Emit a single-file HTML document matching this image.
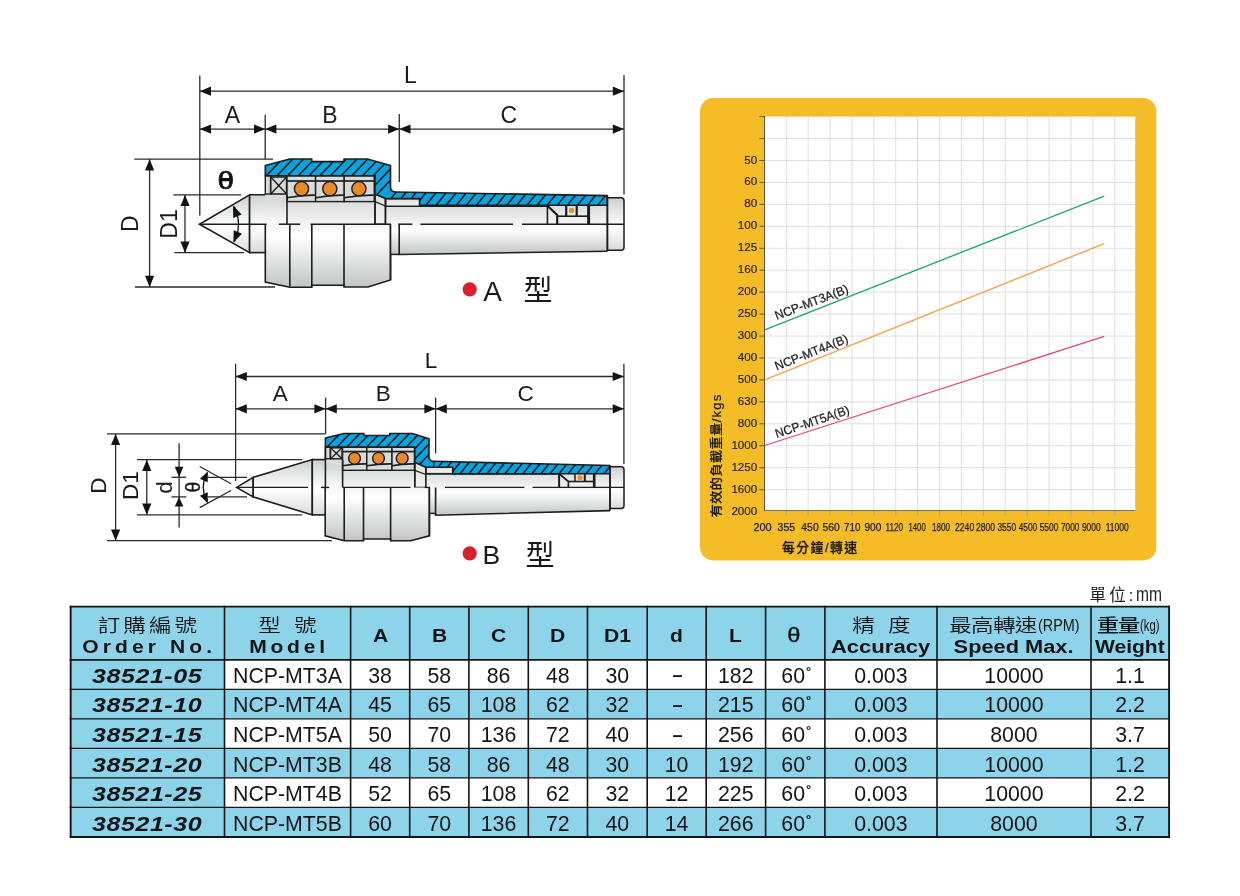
<!DOCTYPE html>
<html lang="zh-Hant"><head><meta charset="utf-8"><title>NCP Live Center</title><style>
html,body{margin:0;padding:0;background:#fff;}
body{width:1240px;height:896px;position:relative;overflow:hidden;font-family:"Liberation Sans","Noto Sans CJK TC",sans-serif;}
.t{position:absolute;left:70.6px;top:606.6px;border-collapse:collapse;table-layout:fixed;width:1098.6px;border:0;}
.t th,.t td{border:0;padding:0;text-align:center;color:#151515;overflow:hidden;white-space:nowrap;box-sizing:border-box;}
.t tr.h{height:53.2px}
.t tr.h th{height:53.2px;background:#8dd3ea;font-weight:normal;vertical-align:top;}
.t tr.r{height:29.52px}
.t td{height:29.52px;font-size:21.3px;line-height:26px;background:#fff;vertical-align:top;padding-top:3.2px;}
.t tr.b td{background:#8dd3ea;}
.t td.ord{background:#8dd3ea;}
.zh{font-family:"Liberation Sans","Noto Sans CJK TC",sans-serif;font-weight:350;font-size:18px;line-height:20px;margin-top:9.4px;}
.c{display:inline-block;transform:scaleX(1.25);transform-origin:center;}
.en{font-weight:bold;font-size:18px;line-height:20px;margin-top:1px;}
.x{display:inline-block;transform:scaleX(1.17);transform-origin:center;}
.one{font-weight:bold;font-size:18px;line-height:20px;margin-top:19px;}
.sm{font-size:16px;letter-spacing:0;font-weight:300;display:inline-block;transform:scaleX(0.9);transform-origin:left;vertical-align:0.5px;margin-left:1.5px;margin-right:-5px}
.sm2{font-size:16px;letter-spacing:0;font-weight:300;display:inline-block;transform:scaleX(0.71);transform-origin:left;vertical-align:0.5px;margin-left:1.5px;margin-right:-4px}
.o{display:inline-block;font-weight:bold;font-style:italic;font-size:20.5px;letter-spacing:0.45px;margin-right:-0.45px;transform:scaleX(1.22);position:relative;left:-0.6px}
.deg{font-size:13px;-webkit-text-stroke:0.3px #151515;position:relative;top:-7px;margin-left:1.1px;margin-right:-2.3px;line-height:0}
.dash{font-weight:bold;font-size:18px;line-height:0;position:relative;top:-1.5px;left:1px}
.unit{position:absolute;left:1089.5px;top:584px;font-size:16.5px;line-height:20px;color:#222;font-family:"Liberation Sans","Noto Sans CJK TC",sans-serif;white-space:nowrap;font-weight:400}
</style></head><body>
<svg width="1240" height="896" viewBox="0 0 1240 896" style="position:absolute;left:0;top:0" font-family="'Liberation Sans',sans-serif">
<defs>
<linearGradient id="gFull" x1="0" y1="0" x2="0" y2="1">
 <stop offset="0" stop-color="#cfd1d1"/><stop offset="0.55" stop-color="#ffffff"/><stop offset="1" stop-color="#d9dbdb"/>
</linearGradient>
<linearGradient id="gLow" x1="0" y1="0" x2="0" y2="1">
 <stop offset="0" stop-color="#f3f4f4"/><stop offset="0.18" stop-color="#ffffff"/><stop offset="1" stop-color="#c3c5c5"/>
</linearGradient>
<linearGradient id="gUp" x1="0" y1="0" x2="0" y2="1">
 <stop offset="0" stop-color="#d0d2d2"/><stop offset="1" stop-color="#f7f7f7"/>
</linearGradient>
 <linearGradient id="gUpF" x1="0" y1="0" x2="0" y2="1">
 <stop offset="0" stop-color="#cfd1d1"/><stop offset="1" stop-color="#fbfbfb"/>
</linearGradient>
<linearGradient id="gUp2" x1="0" y1="0" x2="0" y2="1">
 <stop offset="0" stop-color="#dcdede"/><stop offset="1" stop-color="#f4f4f4"/>
</linearGradient>
</defs>

<g id="diagA"><polygon points="199.5,224.2 249.6,194.8 249.6,252.6" fill="url(#gFull)" stroke="#1d1d1d" stroke-width="1.6" stroke-linejoin="miter"/>
<rect x="249.6" y="194.8" width="15.7" height="57.8" fill="url(#gFull)"/>
<rect x="265.0" y="194.8" width="22" height="29.4" fill="url(#gUpF)"/>
<polyline points="249.6,194.8 287,194.8" fill="none" stroke="#1d1d1d" stroke-width="1.6"/>
<polyline points="249.6,252.6 265.3,252.6" fill="none" stroke="#1d1d1d" stroke-width="1.6"/>
<line x1="249.6" y1="194.8" x2="249.6" y2="252.6" stroke="#1d1d1d" stroke-width="1.6"/>
<rect x="265.3" y="175.8" width="109.7" height="25.8" fill="#d9dbdb"/>
<rect x="287" y="201.6" width="88" height="22.6" fill="url(#gUp2)"/>
<polygon points="375,194 385.3,198.3 385.3,224.2 375,224.2" fill="url(#gUp2)" stroke="#1d1d1d" stroke-width="1.4"/>
<line x1="375.0" y1="201.6" x2="385.3" y2="206.0" stroke="#1d1d1d" stroke-width="1.3"/>
<rect x="385.6" y="198.6" width="34" height="8.2" fill="url(#gUp2)" stroke="#1d1d1d" stroke-width="1.4"/>
<rect x="385.3" y="206" width="222.1" height="18.2" fill="url(#gUp2)"/>
<line x1="385.3" y1="206.3" x2="547.4" y2="206.3" stroke="#1d1d1d" stroke-width="1.4"/>
<line x1="385.6" y1="198.4" x2="385.6" y2="224.2" stroke="#1d1d1d" stroke-width="1.5"/>
<polyline points="547.4,205 547.4,224.2" fill="none" stroke="#1d1d1d" stroke-width="1.6"/>
<polyline points="547.4,205.8 557.2,215 557.2,224.2" fill="none" stroke="#1d1d1d" stroke-width="2.2"/>
<line x1="557.2" y1="216.2" x2="588.0" y2="216.2" stroke="#1d1d1d" stroke-width="1.6"/>
<line x1="566.2" y1="205.0" x2="566.2" y2="216.2" stroke="#1d1d1d" stroke-width="2.2"/>
<line x1="576.7" y1="205.0" x2="576.7" y2="216.2" stroke="#1d1d1d" stroke-width="2.2"/>
<line x1="588.6" y1="205.0" x2="588.6" y2="224.2" stroke="#1d1d1d" stroke-width="3.0"/>
<circle cx="571.6" cy="210.4" r="2.6" fill="#ea8b2a"/>
<rect x="265.3" y="175.8" width="5.2" height="18.2" fill="#d9dbdb" stroke="#1d1d1d" stroke-width="1.4"/>
<rect x="270.8" y="177" width="15.8" height="17" fill="#d9dbdb" stroke="#1d1d1d" stroke-width="1.5"/>
<line x1="270.8" y1="177.0" x2="286.6" y2="194.0" stroke="#1d1d1d" stroke-width="1.4"/><line x1="286.6" y1="177.0" x2="270.8" y2="194.0" stroke="#1d1d1d" stroke-width="1.4"/>
<rect x="287.0" y="175.8" width="28.6" height="25.8" fill="#d9dbdb" stroke="#1d1d1d" stroke-width="1.4"/><line x1="287.0" y1="181.0" x2="315.6" y2="181.0" stroke="#1d1d1d" stroke-width="1.7"/><path d="M287.0,197.7 Q301.3,194.9 315.6,195.2" fill="none" stroke="#1d1d1d" stroke-width="1.6"/><circle cx="301.5" cy="188.7" r="7.1" fill="#ea8b2a" stroke="#1d1d1d" stroke-width="1.4"/>
<rect x="315.6" y="175.8" width="28.6" height="25.8" fill="#d9dbdb" stroke="#1d1d1d" stroke-width="1.4"/><line x1="315.6" y1="181.0" x2="344.2" y2="181.0" stroke="#1d1d1d" stroke-width="1.7"/><path d="M315.6,197.7 Q329.9,194.9 344.2,195.2" fill="none" stroke="#1d1d1d" stroke-width="1.6"/><circle cx="329.8" cy="188.7" r="7.1" fill="#ea8b2a" stroke="#1d1d1d" stroke-width="1.4"/>
<rect x="344.2" y="175.8" width="30.0" height="25.8" fill="#d9dbdb" stroke="#1d1d1d" stroke-width="1.4"/><line x1="344.2" y1="181.0" x2="374.2" y2="181.0" stroke="#1d1d1d" stroke-width="1.7"/><path d="M344.2,197.7 Q359.2,194.9 374.2,195.2" fill="none" stroke="#1d1d1d" stroke-width="1.6"/><circle cx="358.9" cy="188.7" r="7.1" fill="#ea8b2a" stroke="#1d1d1d" stroke-width="1.4"/>
<line x1="287.0" y1="194.8" x2="287.0" y2="224.2" stroke="#1d1d1d" stroke-width="1.6"/>
<line x1="375.0" y1="194.0" x2="375.0" y2="224.2" stroke="#1d1d1d" stroke-width="1.5"/>
<clipPath id="cA"><path d="M265.3,165.5 L289.8,159 L311.8,159 L311.8,161.6 L344,161.6 L344,159 L367.3,159 L390.5,165.5 L390.5,187 Q390.5,192 396,192 L607.3,195.6 L607.3,205.2 L419.6,205.2 L419.6,198.6 L385.6,198.6 L375,194 L375,175.8 L265.3,175.8 Z"/></clipPath>
<path d="M265.3,165.5 L289.8,159 L311.8,159 L311.8,161.6 L344,161.6 L344,159 L367.3,159 L390.5,165.5 L390.5,187 Q390.5,192 396,192 L607.3,195.6 L607.3,205.2 L419.6,205.2 L419.6,198.6 L385.6,198.6 L375,194 L375,175.8 L265.3,175.8 Z" fill="#06a3dd"/>
<clipPath id="cA1"><polygon points="260,150 391,150 391,190 383,197.5 383,210 260,210"/></clipPath><clipPath id="cA2"><rect x="391" y="150" width="230" height="60"/></clipPath>
<g clip-path="url(#cA1)"><g clip-path="url(#cA)" stroke="#111" stroke-width="1.45"><line x1="200.4" y1="200.0" x2="239.4" y2="159.0"/><line x1="211.1" y1="200.0" x2="250.1" y2="159.0"/><line x1="221.8" y1="200.0" x2="260.8" y2="159.0"/><line x1="232.5" y1="200.0" x2="271.5" y2="159.0"/><line x1="243.2" y1="200.0" x2="282.2" y2="159.0"/><line x1="253.9" y1="200.0" x2="292.9" y2="159.0"/><line x1="264.6" y1="200.0" x2="303.6" y2="159.0"/><line x1="275.3" y1="200.0" x2="314.3" y2="159.0"/><line x1="286.0" y1="200.0" x2="325.0" y2="159.0"/><line x1="296.7" y1="200.0" x2="335.7" y2="159.0"/><line x1="307.4" y1="200.0" x2="346.4" y2="159.0"/><line x1="318.1" y1="200.0" x2="357.1" y2="159.0"/><line x1="328.8" y1="200.0" x2="367.8" y2="159.0"/><line x1="339.5" y1="200.0" x2="378.5" y2="159.0"/><line x1="350.2" y1="200.0" x2="389.2" y2="159.0"/><line x1="360.9" y1="200.0" x2="399.9" y2="159.0"/><line x1="371.6" y1="200.0" x2="410.6" y2="159.0"/><line x1="382.3" y1="200.0" x2="421.3" y2="159.0"/><line x1="393.0" y1="200.0" x2="432.0" y2="159.0"/><line x1="403.7" y1="200.0" x2="442.7" y2="159.0"/></g></g>
<g clip-path="url(#cA2)"><g clip-path="url(#cA)" stroke="#111" stroke-width="1.45"><line x1="354.7" y1="206.0" x2="367.5" y2="190.0"/><line x1="364.8" y1="206.0" x2="377.6" y2="190.0"/><line x1="374.9" y1="206.0" x2="387.7" y2="190.0"/><line x1="385.0" y1="206.0" x2="397.8" y2="190.0"/><line x1="395.1" y1="206.0" x2="407.9" y2="190.0"/><line x1="405.2" y1="206.0" x2="418.0" y2="190.0"/><line x1="415.3" y1="206.0" x2="428.1" y2="190.0"/><line x1="425.4" y1="206.0" x2="438.2" y2="190.0"/><line x1="435.5" y1="206.0" x2="448.3" y2="190.0"/><line x1="445.6" y1="206.0" x2="458.4" y2="190.0"/><line x1="455.7" y1="206.0" x2="468.5" y2="190.0"/><line x1="465.8" y1="206.0" x2="478.6" y2="190.0"/><line x1="475.9" y1="206.0" x2="488.7" y2="190.0"/><line x1="486.0" y1="206.0" x2="498.8" y2="190.0"/><line x1="496.1" y1="206.0" x2="508.9" y2="190.0"/><line x1="506.2" y1="206.0" x2="519.0" y2="190.0"/><line x1="516.3" y1="206.0" x2="529.1" y2="190.0"/><line x1="526.4" y1="206.0" x2="539.2" y2="190.0"/><line x1="536.5" y1="206.0" x2="549.3" y2="190.0"/><line x1="546.6" y1="206.0" x2="559.4" y2="190.0"/><line x1="556.7" y1="206.0" x2="569.5" y2="190.0"/><line x1="566.8" y1="206.0" x2="579.6" y2="190.0"/><line x1="576.9" y1="206.0" x2="589.7" y2="190.0"/><line x1="587.0" y1="206.0" x2="599.8" y2="190.0"/><line x1="597.1" y1="206.0" x2="609.9" y2="190.0"/><line x1="607.2" y1="206.0" x2="620.0" y2="190.0"/><line x1="617.3" y1="206.0" x2="630.1" y2="190.0"/><line x1="627.4" y1="206.0" x2="640.2" y2="190.0"/></g></g>
<path d="M265.3,165.5 L289.8,159 L311.8,159 L311.8,161.6 L344,161.6 L344,159 L367.3,159 L390.5,165.5 L390.5,187 Q390.5,192 396,192 L607.3,195.6 L607.3,205.2 L419.6,205.2 L419.6,198.6 L385.6,198.6 L375,194 L375,175.8 L265.3,175.8 Z" fill="none" stroke="#1d1d1d" stroke-width="1.6" stroke-linejoin="round"/>
<path d="M265.3,224.2 L265.3,282 L289.8,287.3 L311.8,287.3 L311.8,285.3 L344,285.3 L344,287 L368,287 L390.5,280 L390.5,224.2 Z" fill="url(#gLow)"/>
<path d="M265.3,224.2 L265.3,282 L289.8,287.3 L311.8,287.3 L311.8,285.3 L344,285.3 L344,287 L368,287 L390.5,280 L390.5,224.2" fill="none" stroke="#1d1d1d" stroke-width="1.6"/>
<line x1="289.8" y1="224.2" x2="289.8" y2="286.5" stroke="#1d1d1d" stroke-width="1.6"/>
<line x1="311.8" y1="224.2" x2="311.8" y2="286.5" stroke="#1d1d1d" stroke-width="1.6"/>
<line x1="344.0" y1="224.2" x2="344.0" y2="286.5" stroke="#1d1d1d" stroke-width="1.6"/>
<rect x="390.5" y="224.2" width="8.7" height="30.2" fill="url(#gLow)"/>
<line x1="390.5" y1="254.4" x2="399.2" y2="254.4" stroke="#1d1d1d" stroke-width="1.5"/>
<polygon points="399.2,224.2 607.4,224.2 607.4,251.2 399.2,254.5" fill="url(#gLow)"/>
<polyline points="399.2,224.2 399.2,254.5 607.4,251.2" fill="none" stroke="#1d1d1d" stroke-width="1.6"/>
<line x1="390.5" y1="224.2" x2="390.5" y2="280.0" stroke="#1d1d1d" stroke-width="1.6"/>
<path d="M607.4,197.7 L621,197.7 Q624,197.7 624,200.7 L624,247.2 Q624,250.2 621,250.2 L607.4,250.2 Z" fill="url(#gFull)" stroke="#1d1d1d" stroke-width="1.5"/>
<line x1="607.4" y1="195.6" x2="607.4" y2="251.2" stroke="#1d1d1d" stroke-width="1.6"/>
<line x1="199.5" y1="224.2" x2="266.5" y2="224.2" stroke="#1d1d1d" stroke-width="1.5"/>
<line x1="278.9" y1="224.2" x2="300.2" y2="224.2" stroke="#1d1d1d" stroke-width="1.5"/>
<line x1="310.5" y1="224.2" x2="391.0" y2="224.2" stroke="#1d1d1d" stroke-width="1.5"/>
<line x1="398.2" y1="224.2" x2="412.4" y2="224.2" stroke="#1d1d1d" stroke-width="1.5"/>
<line x1="420.4" y1="224.2" x2="513.0" y2="224.2" stroke="#1d1d1d" stroke-width="1.5"/>
<line x1="522.0" y1="224.2" x2="624.0" y2="224.2" stroke="#1d1d1d" stroke-width="1.5"/>
<path d="M234.2,206.5 A39.0,39.0 0 0 1 234.2,241.9" fill="none" stroke="#1d1d1d" stroke-width="1.4"/>
<polygon points="233.0,205.6 241.6,214.5 233.3,217.9" fill="#111"/>
<polygon points="233.4,242.6 233.7,230.3 242.0,233.7" fill="#111"/>
<line x1="199.8" y1="75.6" x2="199.8" y2="215.6" stroke="#2a2a2a" stroke-width="1.3"/>
<line x1="624.0" y1="75.0" x2="624.0" y2="194.6" stroke="#2a2a2a" stroke-width="1.3"/>
<line x1="265.2" y1="114.8" x2="265.2" y2="159.2" stroke="#2a2a2a" stroke-width="1.3"/>
<line x1="399.3" y1="114.0" x2="399.3" y2="182.0" stroke="#2a2a2a" stroke-width="1.3"/>
<line x1="199.8" y1="91.2" x2="624.0" y2="91.2" stroke="#2a2a2a" stroke-width="1.3"/><polygon points="199.8,91.2 211.0,86.6 211.0,95.8" fill="#141414"/><polygon points="624.0,91.2 612.8,95.8 612.8,86.6" fill="#141414"/>
<line x1="199.8" y1="129.1" x2="265.2" y2="129.1" stroke="#2a2a2a" stroke-width="1.3"/><polygon points="199.8,129.1 211.0,124.5 211.0,133.7" fill="#141414"/><polygon points="265.2,129.1 254.0,133.7 254.0,124.5" fill="#141414"/><line x1="265.2" y1="129.1" x2="399.3" y2="129.1" stroke="#2a2a2a" stroke-width="1.3"/><polygon points="265.2,129.1 276.4,124.5 276.4,133.7" fill="#141414"/><polygon points="399.3,129.1 388.1,133.7 388.1,124.5" fill="#141414"/><line x1="399.3" y1="129.1" x2="624.0" y2="129.1" stroke="#2a2a2a" stroke-width="1.3"/><polygon points="399.3,129.1 410.5,124.5 410.5,133.7" fill="#141414"/><polygon points="624.0,129.1 612.8,133.7 612.8,124.5" fill="#141414"/>
<line x1="134.3" y1="159.2" x2="273.0" y2="159.2" stroke="#2a2a2a" stroke-width="1.3"/><line x1="135.0" y1="287.0" x2="275.0" y2="287.0" stroke="#2a2a2a" stroke-width="1.3"/>
<line x1="149.6" y1="159.2" x2="149.6" y2="287.0" stroke="#2a2a2a" stroke-width="1.3"/><polygon points="149.6,159.2 154.2,170.4 145.0,170.4" fill="#141414"/><polygon points="149.6,287.0 145.0,275.8 154.2,275.8" fill="#141414"/>
<line x1="173.3" y1="194.9" x2="241.0" y2="194.9" stroke="#2a2a2a" stroke-width="1.3"/><line x1="174.4" y1="252.7" x2="244.0" y2="252.7" stroke="#2a2a2a" stroke-width="1.3"/>
<line x1="185.0" y1="194.9" x2="185.0" y2="252.7" stroke="#2a2a2a" stroke-width="1.3"/><polygon points="185.0,194.9 189.6,206.1 180.4,206.1" fill="#141414"/><polygon points="185.0,252.7 180.4,241.5 189.6,241.5" fill="#141414"/>
<text x="410.4" y="83.0" font-size="23" text-anchor="middle" fill="#1a1a1a" >L</text>
<text x="232.5" y="122.8" font-size="23" text-anchor="middle" fill="#1a1a1a" >A</text>
<text x="330.0" y="122.8" font-size="23" text-anchor="middle" fill="#1a1a1a" >B</text>
<text x="508.7" y="123.0" font-size="23" text-anchor="middle" fill="#1a1a1a" >C</text>
<text transform="translate(138.2,223.6) rotate(-90)" font-size="23" text-anchor="middle" fill="#1a1a1a">D</text>
<text transform="translate(177.3,224) rotate(-90)" font-size="23" text-anchor="middle" fill="#1a1a1a">D1</text>
<rect x="221" y="178" width="9.6" height="3" fill="#111"/>
<text transform="translate(225.8,189.4) scale(1.24,1)" font-size="24" text-anchor="middle" fill="#111" stroke="#111" stroke-width="0.7" stroke-linejoin="round">θ</text>
<circle cx="469.7" cy="289.4" r="7.1" fill="#d7202a"/>
<text x="492.6" y="300.6" font-size="28" text-anchor="middle" fill="#1a1a1a" >A</text>
<text x="538.1" y="300.8" font-size="29" text-anchor="middle" fill="#1a1a1a" font-family="'Liberation Sans','Noto Sans CJK TC',sans-serif" font-weight="400">型</text></g>
<g id="diagB"><polygon points="236.6,487.4 253.2,477.3 253.2,496.9" fill="url(#gFull)" stroke="#1d1d1d" stroke-width="1.5"/>
<polygon points="253.2,477.3 312.3,459.6 312.3,514.9 253.2,496.9" fill="url(#gFull)" stroke="#1d1d1d" stroke-width="1.6"/>
<rect x="312.3" y="459.6" width="12.9" height="55.3" fill="url(#gFull)"/>
<rect x="325.0" y="459.6" width="17.6" height="27.8" fill="url(#gUpF)"/>
<line x1="312.3" y1="459.6" x2="342.6" y2="459.6" stroke="#1d1d1d" stroke-width="1.6"/><line x1="312.3" y1="514.9" x2="325.2" y2="514.9" stroke="#1d1d1d" stroke-width="1.6"/><line x1="312.3" y1="459.6" x2="312.3" y2="514.9" stroke="#1d1d1d" stroke-width="1.6"/>
<rect x="325.4" y="447.1" width="89.4" height="23.2" fill="#d9dbdb"/>
<rect x="342.6" y="470.3" width="72.2" height="17.1" fill="url(#gUp2)"/>
<polygon points="414.8,462.2 425.8,467.2 425.8,487.4 414.8,487.4" fill="url(#gUp2)" stroke="#1d1d1d" stroke-width="1.4"/>
<line x1="414.8" y1="470.3" x2="425.8" y2="474.5" stroke="#1d1d1d" stroke-width="1.3"/>
<rect x="425.9" y="467.2" width="26.8" height="6.4" fill="url(#gUp2)" stroke="#1d1d1d" stroke-width="1.4"/>
<rect x="425.8" y="473.8" width="184.2" height="13.6" fill="url(#gUp2)"/>
<line x1="425.8" y1="474.0" x2="559.1" y2="474.0" stroke="#1d1d1d" stroke-width="1.4"/>
<line x1="425.9" y1="467.0" x2="425.9" y2="487.4" stroke="#1d1d1d" stroke-width="1.5"/>
<line x1="559.1" y1="473.8" x2="559.1" y2="487.4" stroke="#1d1d1d" stroke-width="2.0"/>
<polyline points="560,474.5 568.4,481.5 568.4,487.4" fill="none" stroke="#1d1d1d" stroke-width="1.7"/>
<line x1="568.4" y1="481.5" x2="593.5" y2="481.5" stroke="#1d1d1d" stroke-width="1.6"/>
<line x1="575.0" y1="473.8" x2="575.0" y2="481.5" stroke="#1d1d1d" stroke-width="1.5"/>
<line x1="584.8" y1="473.8" x2="584.8" y2="481.5" stroke="#1d1d1d" stroke-width="2.0"/>
<line x1="594.2" y1="473.8" x2="594.2" y2="487.4" stroke="#1d1d1d" stroke-width="2.6"/>
<circle cx="580" cy="477.7" r="2.5" fill="#ea8b2a"/>
<rect x="325.4" y="447.1" width="4.9" height="11.6" fill="#d9dbdb" stroke="#1d1d1d" stroke-width="1.4"/>
<rect x="330.5" y="447.8" width="11.6" height="11" fill="#d9dbdb" stroke="#1d1d1d" stroke-width="1.5"/>
<line x1="330.5" y1="447.8" x2="342.1" y2="458.8" stroke="#1d1d1d" stroke-width="1.3"/><line x1="342.1" y1="447.8" x2="330.5" y2="458.8" stroke="#1d1d1d" stroke-width="1.3"/>
<rect x="342.6" y="447.1" width="24.2" height="23.2" fill="#d9dbdb" stroke="#1d1d1d" stroke-width="1.4"/><line x1="342.6" y1="451.6" x2="366.8" y2="451.6" stroke="#1d1d1d" stroke-width="1.7"/><path d="M342.6,465.8 Q354.7,463.6 366.8,463.9" fill="none" stroke="#1d1d1d" stroke-width="1.6"/><circle cx="354.5" cy="458.3" r="5.9" fill="#ea8b2a" stroke="#1d1d1d" stroke-width="1.4"/>
<rect x="366.8" y="447.1" width="25.2" height="23.2" fill="#d9dbdb" stroke="#1d1d1d" stroke-width="1.4"/><line x1="366.8" y1="451.6" x2="392.0" y2="451.6" stroke="#1d1d1d" stroke-width="1.7"/><path d="M366.8,465.8 Q379.4,463.6 392.0,463.9" fill="none" stroke="#1d1d1d" stroke-width="1.6"/><circle cx="378.5" cy="458.3" r="5.9" fill="#ea8b2a" stroke="#1d1d1d" stroke-width="1.4"/>
<rect x="392.0" y="447.1" width="22.4" height="23.2" fill="#d9dbdb" stroke="#1d1d1d" stroke-width="1.4"/><line x1="392.0" y1="451.6" x2="414.4" y2="451.6" stroke="#1d1d1d" stroke-width="1.7"/><path d="M392.0,465.8 Q403.2,463.6 414.4,463.9" fill="none" stroke="#1d1d1d" stroke-width="1.6"/><circle cx="402.2" cy="458.3" r="5.9" fill="#ea8b2a" stroke="#1d1d1d" stroke-width="1.4"/>
<line x1="342.6" y1="459.6" x2="342.6" y2="487.4" stroke="#1d1d1d" stroke-width="1.6"/>
<line x1="325.4" y1="447.1" x2="325.4" y2="487.4" stroke="#1d1d1d" stroke-width="1.6"/>
<line x1="414.8" y1="462.2" x2="414.8" y2="487.4" stroke="#1d1d1d" stroke-width="1.5"/>
<clipPath id="cB"><path d="M325.4,438 L343.9,433.5 L363.9,433.5 L363.9,435.5 L389.7,435.5 L389.7,433.5 L412.3,433.5 L429,438.7 L429,456.5 Q429,461.3 433.5,461.3 L610,465.5 L610,473.8 L452.7,473.8 L452.7,467.2 L425.9,467.2 L414.8,462.2 L414.8,447.1 L325.4,447.1 Z"/></clipPath>
<path d="M325.4,438 L343.9,433.5 L363.9,433.5 L363.9,435.5 L389.7,435.5 L389.7,433.5 L412.3,433.5 L429,438.7 L429,456.5 Q429,461.3 433.5,461.3 L610,465.5 L610,473.8 L452.7,473.8 L452.7,467.2 L425.9,467.2 L414.8,462.2 L414.8,447.1 L325.4,447.1 Z" fill="#06a3dd"/>
<clipPath id="cB1"><polygon points="320,425 429.6,425 429.6,459 423,466 423,485 320,485"/></clipPath><clipPath id="cB2"><rect x="434.2" y="425" width="190" height="60"/></clipPath>
<g clip-path="url(#cB1)"><g clip-path="url(#cB)" stroke="#111" stroke-width="1.45"><line x1="265.7" y1="470.0" x2="300.9" y2="433.0"/><line x1="275.6" y1="470.0" x2="310.8" y2="433.0"/><line x1="285.5" y1="470.0" x2="320.7" y2="433.0"/><line x1="295.4" y1="470.0" x2="330.6" y2="433.0"/><line x1="305.3" y1="470.0" x2="340.5" y2="433.0"/><line x1="315.2" y1="470.0" x2="350.4" y2="433.0"/><line x1="325.1" y1="470.0" x2="360.3" y2="433.0"/><line x1="335.0" y1="470.0" x2="370.2" y2="433.0"/><line x1="344.9" y1="470.0" x2="380.1" y2="433.0"/><line x1="354.8" y1="470.0" x2="390.0" y2="433.0"/><line x1="364.7" y1="470.0" x2="399.9" y2="433.0"/><line x1="374.6" y1="470.0" x2="409.8" y2="433.0"/><line x1="384.5" y1="470.0" x2="419.7" y2="433.0"/><line x1="394.4" y1="470.0" x2="429.6" y2="433.0"/><line x1="404.3" y1="470.0" x2="439.5" y2="433.0"/><line x1="414.2" y1="470.0" x2="449.4" y2="433.0"/><line x1="424.1" y1="470.0" x2="459.3" y2="433.0"/><line x1="434.0" y1="470.0" x2="469.2" y2="433.0"/><line x1="443.9" y1="470.0" x2="479.1" y2="433.0"/></g></g>
<g clip-path="url(#cB2)"><g clip-path="url(#cB)" stroke="#111" stroke-width="1.45"><line x1="396.0" y1="475.0" x2="408.8" y2="459.0"/><line x1="405.0" y1="475.0" x2="417.8" y2="459.0"/><line x1="414.0" y1="475.0" x2="426.8" y2="459.0"/><line x1="423.0" y1="475.0" x2="435.8" y2="459.0"/><line x1="432.0" y1="475.0" x2="444.8" y2="459.0"/><line x1="441.0" y1="475.0" x2="453.8" y2="459.0"/><line x1="450.0" y1="475.0" x2="462.8" y2="459.0"/><line x1="459.0" y1="475.0" x2="471.8" y2="459.0"/><line x1="468.0" y1="475.0" x2="480.8" y2="459.0"/><line x1="477.0" y1="475.0" x2="489.8" y2="459.0"/><line x1="486.0" y1="475.0" x2="498.8" y2="459.0"/><line x1="495.0" y1="475.0" x2="507.8" y2="459.0"/><line x1="504.0" y1="475.0" x2="516.8" y2="459.0"/><line x1="513.0" y1="475.0" x2="525.8" y2="459.0"/><line x1="522.0" y1="475.0" x2="534.8" y2="459.0"/><line x1="531.0" y1="475.0" x2="543.8" y2="459.0"/><line x1="540.0" y1="475.0" x2="552.8" y2="459.0"/><line x1="549.0" y1="475.0" x2="561.8" y2="459.0"/><line x1="558.0" y1="475.0" x2="570.8" y2="459.0"/><line x1="567.0" y1="475.0" x2="579.8" y2="459.0"/><line x1="576.0" y1="475.0" x2="588.8" y2="459.0"/><line x1="585.0" y1="475.0" x2="597.8" y2="459.0"/><line x1="594.0" y1="475.0" x2="606.8" y2="459.0"/><line x1="603.0" y1="475.0" x2="615.8" y2="459.0"/><line x1="612.0" y1="475.0" x2="624.8" y2="459.0"/><line x1="621.0" y1="475.0" x2="633.8" y2="459.0"/></g></g>
<line x1="433.8" y1="461.3" x2="433.8" y2="467.0" stroke="#1d1d1d" stroke-width="1.4"/>
<path d="M325.4,438 L343.9,433.5 L363.9,433.5 L363.9,435.5 L389.7,435.5 L389.7,433.5 L412.3,433.5 L429,438.7 L429,456.5 Q429,461.3 433.5,461.3 L610,465.5 L610,473.8 L452.7,473.8 L452.7,467.2 L425.9,467.2 L414.8,462.2 L414.8,447.1 L325.4,447.1 Z" fill="none" stroke="#1d1d1d" stroke-width="1.6" stroke-linejoin="round"/>
<path d="M325.2,487.4 L325.2,535.8 L344.2,540.7 L363.5,540.7 L363.5,539 L390.6,539 L390.6,540.7 L410.6,540.7 L429.4,535.8 L429.4,487.4 Z" fill="url(#gLow)"/>
<path d="M325.2,487.4 L325.2,535.8 L344.2,540.7 L363.5,540.7 L363.5,539 L390.6,539 L390.6,540.7 L410.6,540.7 L429.4,535.8 L429.4,487.4" fill="none" stroke="#1d1d1d" stroke-width="1.6"/>
<line x1="344.2" y1="487.4" x2="344.2" y2="540.0" stroke="#1d1d1d" stroke-width="1.6"/>
<line x1="363.5" y1="487.4" x2="363.5" y2="540.0" stroke="#1d1d1d" stroke-width="1.6"/>
<line x1="390.6" y1="487.4" x2="390.6" y2="540.0" stroke="#1d1d1d" stroke-width="1.6"/>
<rect x="429.4" y="487.4" width="6.2" height="26.0" fill="url(#gLow)"/>
<line x1="429.4" y1="513.4" x2="435.6" y2="513.4" stroke="#1d1d1d" stroke-width="1.5"/>
<polygon points="435.6,487.4 610,487.4 610,510.6 435.6,515.2" fill="url(#gLow)"/>
<polyline points="435.6,487.4 435.6,515.2 610,510.6" fill="none" stroke="#1d1d1d" stroke-width="1.6"/>
<line x1="429.4" y1="487.4" x2="429.4" y2="535.8" stroke="#1d1d1d" stroke-width="1.6"/>
<path d="M610,466.8 L621,466.8 Q624,466.8 624,469.8 L624,505.6 Q624,508.6 621,508.6 L610,508.6 Z" fill="url(#gFull)" stroke="#1d1d1d" stroke-width="1.5"/>
<line x1="610.0" y1="465.5" x2="610.0" y2="510.6" stroke="#1d1d1d" stroke-width="1.6"/>
<line x1="237.0" y1="487.4" x2="308.0" y2="487.4" stroke="#1d1d1d" stroke-width="1.4"/>
<line x1="321.0" y1="487.4" x2="329.2" y2="487.4" stroke="#1d1d1d" stroke-width="1.4"/>
<line x1="342.4" y1="487.4" x2="410.5" y2="487.4" stroke="#1d1d1d" stroke-width="1.4"/>
<line x1="424.5" y1="487.4" x2="430.0" y2="487.4" stroke="#1d1d1d" stroke-width="1.4"/>
<line x1="445.0" y1="487.4" x2="524.3" y2="487.4" stroke="#1d1d1d" stroke-width="1.4"/>
<line x1="532.6" y1="487.4" x2="624.0" y2="487.4" stroke="#1d1d1d" stroke-width="1.4"/>
<line x1="235.6" y1="363.7" x2="235.6" y2="481.0" stroke="#2a2a2a" stroke-width="1.3"/>
<line x1="623.9" y1="363.7" x2="623.9" y2="464.1" stroke="#2a2a2a" stroke-width="1.3"/>
<line x1="325.6" y1="397.6" x2="325.6" y2="433.8" stroke="#2a2a2a" stroke-width="1.3"/>
<line x1="435.6" y1="397.6" x2="435.6" y2="453.4" stroke="#2a2a2a" stroke-width="1.3"/>
<line x1="235.6" y1="376.5" x2="623.9" y2="376.5" stroke="#2a2a2a" stroke-width="1.3"/><polygon points="235.6,376.5 246.8,371.9 246.8,381.1" fill="#141414"/><polygon points="623.9,376.5 612.7,381.1 612.7,371.9" fill="#141414"/>
<line x1="235.6" y1="408.8" x2="325.6" y2="408.8" stroke="#2a2a2a" stroke-width="1.3"/><polygon points="235.6,408.8 246.8,404.2 246.8,413.4" fill="#141414"/><polygon points="325.6,408.8 314.4,413.4 314.4,404.2" fill="#141414"/><line x1="325.6" y1="408.8" x2="435.6" y2="408.8" stroke="#2a2a2a" stroke-width="1.3"/><polygon points="325.6,408.8 336.8,404.2 336.8,413.4" fill="#141414"/><polygon points="435.6,408.8 424.4,413.4 424.4,404.2" fill="#141414"/><line x1="435.6" y1="408.8" x2="623.9" y2="408.8" stroke="#2a2a2a" stroke-width="1.3"/><polygon points="435.6,408.8 446.8,404.2 446.8,413.4" fill="#141414"/><polygon points="623.9,408.8 612.7,413.4 612.7,404.2" fill="#141414"/>
<line x1="107.0" y1="433.9" x2="325.6" y2="433.9" stroke="#2a2a2a" stroke-width="1.3"/><line x1="107.0" y1="540.7" x2="331.8" y2="540.7" stroke="#2a2a2a" stroke-width="1.3"/>
<line x1="115.6" y1="433.9" x2="115.6" y2="540.7" stroke="#2a2a2a" stroke-width="1.3"/><polygon points="115.6,433.9 120.2,445.1 111.0,445.1" fill="#141414"/><polygon points="115.6,540.7 111.0,529.5 120.2,529.5" fill="#141414"/>
<line x1="137.0" y1="459.7" x2="302.2" y2="459.7" stroke="#2a2a2a" stroke-width="1.3"/><line x1="137.0" y1="514.8" x2="302.2" y2="514.8" stroke="#2a2a2a" stroke-width="1.3"/>
<line x1="146.8" y1="459.7" x2="146.8" y2="514.8" stroke="#2a2a2a" stroke-width="1.3"/><polygon points="146.8,459.7 151.4,470.9 142.2,470.9" fill="#141414"/><polygon points="146.8,514.8 142.2,503.6 151.4,503.6" fill="#141414"/>
<line x1="179.1" y1="443.3" x2="179.1" y2="527.6" stroke="#2a2a2a" stroke-width="1.3"/>
<polygon points="179.1,477.3 174.8,466.8 183.4,466.8" fill="#141414"/><polygon points="179.1,496.9 183.4,506.4 174.8,506.4" fill="#141414"/>
<line x1="171.5" y1="477.3" x2="186.2" y2="477.3" stroke="#2a2a2a" stroke-width="1.3"/><line x1="207.7" y1="477.3" x2="247.0" y2="477.3" stroke="#2a2a2a" stroke-width="1.3"/><line x1="171.5" y1="496.9" x2="186.2" y2="496.9" stroke="#2a2a2a" stroke-width="1.3"/><line x1="207.7" y1="496.9" x2="247.0" y2="496.9" stroke="#2a2a2a" stroke-width="1.3"/>
<line x1="199.7" y1="466.5" x2="231.0" y2="483.7" stroke="#2a2a2a" stroke-width="1.3"/><line x1="199.7" y1="507.6" x2="231.0" y2="490.5" stroke="#2a2a2a" stroke-width="1.3"/>
<path d="M206.8,472.8 A33.2,33.2 0 0 0 206.8,502.0" fill="none" stroke="#1d1d1d" stroke-width="1.4"/>
<polygon points="207.9,471.4 207.7,482.3 199.9,478.8" fill="#111"/>
<polygon points="207.9,503.2 199.9,495.8 207.7,492.3" fill="#111"/>
<text x="430.9" y="367.8" font-size="22.5" text-anchor="middle" fill="#1a1a1a" >L</text>
<text x="280.3" y="400.8" font-size="22.5" text-anchor="middle" fill="#1a1a1a" >A</text>
<text x="383.3" y="400.8" font-size="22.5" text-anchor="middle" fill="#1a1a1a" >B</text>
<text x="525.6" y="401.0" font-size="22.5" text-anchor="middle" fill="#1a1a1a" >C</text>
<text transform="translate(105.6,485.5) rotate(-90)" font-size="22.5" text-anchor="middle" fill="#1a1a1a">D</text>
<text transform="translate(138.2,485.5) rotate(-90)" font-size="22.5" text-anchor="middle" fill="#1a1a1a">D1</text>
<text transform="translate(172.1,487.4) rotate(-90)" font-size="22.5" text-anchor="middle" fill="#1a1a1a">d</text>
<text transform="translate(199.7,487.1) rotate(-90)" font-size="19.5" text-anchor="middle" fill="#1a1a1a" stroke="#1a1a1a" stroke-width="0.4">θ</text>
<circle cx="469.7" cy="553.4" r="7.1" fill="#d7202a"/>
<text x="491.4" y="563.8" font-size="26.5" text-anchor="middle" fill="#1a1a1a" >B</text>
<text x="540" y="566" font-size="29" text-anchor="middle" fill="#1a1a1a" font-family="'Liberation Sans','Noto Sans CJK TC',sans-serif" font-weight="400">型</text></g>
<g id="chart"><rect x="700" y="98.1" width="456.3" height="462.3" rx="13" fill="#f4bc26"/>
<rect x="764.3" y="116.6" width="370.9" height="394.0" fill="#fff"/>
<line x1="786.20" y1="116.6" x2="786.20" y2="510.6" stroke="#dddfdf" stroke-width="1"/>
<line x1="786.20" y1="510.6" x2="786.20" y2="515.8" stroke="#b3a77c" stroke-width="1.1"/>
<line x1="808.11" y1="116.6" x2="808.11" y2="510.6" stroke="#dddfdf" stroke-width="1"/>
<line x1="808.11" y1="510.6" x2="808.11" y2="515.8" stroke="#b3a77c" stroke-width="1.1"/>
<line x1="830.01" y1="116.6" x2="830.01" y2="510.6" stroke="#dddfdf" stroke-width="1"/>
<line x1="830.01" y1="510.6" x2="830.01" y2="515.8" stroke="#b3a77c" stroke-width="1.1"/>
<line x1="851.92" y1="116.6" x2="851.92" y2="510.6" stroke="#dddfdf" stroke-width="1"/>
<line x1="851.92" y1="510.6" x2="851.92" y2="515.8" stroke="#b3a77c" stroke-width="1.1"/>
<line x1="873.82" y1="116.6" x2="873.82" y2="510.6" stroke="#dddfdf" stroke-width="1"/>
<line x1="873.82" y1="510.6" x2="873.82" y2="515.8" stroke="#b3a77c" stroke-width="1.1"/>
<line x1="895.73" y1="116.6" x2="895.73" y2="510.6" stroke="#dddfdf" stroke-width="1"/>
<line x1="895.73" y1="510.6" x2="895.73" y2="515.8" stroke="#b3a77c" stroke-width="1.1"/>
<line x1="917.63" y1="116.6" x2="917.63" y2="510.6" stroke="#dddfdf" stroke-width="1"/>
<line x1="917.63" y1="510.6" x2="917.63" y2="515.8" stroke="#b3a77c" stroke-width="1.1"/>
<line x1="939.54" y1="116.6" x2="939.54" y2="510.6" stroke="#dddfdf" stroke-width="1"/>
<line x1="939.54" y1="510.6" x2="939.54" y2="515.8" stroke="#b3a77c" stroke-width="1.1"/>
<line x1="961.44" y1="116.6" x2="961.44" y2="510.6" stroke="#dddfdf" stroke-width="1"/>
<line x1="961.44" y1="510.6" x2="961.44" y2="515.8" stroke="#b3a77c" stroke-width="1.1"/>
<line x1="983.35" y1="116.6" x2="983.35" y2="510.6" stroke="#dddfdf" stroke-width="1"/>
<line x1="983.35" y1="510.6" x2="983.35" y2="515.8" stroke="#b3a77c" stroke-width="1.1"/>
<line x1="1005.25" y1="116.6" x2="1005.25" y2="510.6" stroke="#dddfdf" stroke-width="1"/>
<line x1="1005.25" y1="510.6" x2="1005.25" y2="515.8" stroke="#b3a77c" stroke-width="1.1"/>
<line x1="1027.16" y1="116.6" x2="1027.16" y2="510.6" stroke="#dddfdf" stroke-width="1"/>
<line x1="1027.16" y1="510.6" x2="1027.16" y2="515.8" stroke="#b3a77c" stroke-width="1.1"/>
<line x1="1049.07" y1="116.6" x2="1049.07" y2="510.6" stroke="#dddfdf" stroke-width="1"/>
<line x1="1049.07" y1="510.6" x2="1049.07" y2="515.8" stroke="#b3a77c" stroke-width="1.1"/>
<line x1="1070.97" y1="116.6" x2="1070.97" y2="510.6" stroke="#dddfdf" stroke-width="1"/>
<line x1="1070.97" y1="510.6" x2="1070.97" y2="515.8" stroke="#b3a77c" stroke-width="1.1"/>
<line x1="1092.88" y1="116.6" x2="1092.88" y2="510.6" stroke="#dddfdf" stroke-width="1"/>
<line x1="1092.88" y1="510.6" x2="1092.88" y2="515.8" stroke="#b3a77c" stroke-width="1.1"/>
<line x1="1114.78" y1="116.6" x2="1114.78" y2="510.6" stroke="#dddfdf" stroke-width="1"/>
<line x1="1114.78" y1="510.6" x2="1114.78" y2="515.8" stroke="#b3a77c" stroke-width="1.1"/>
<line x1="764.3" y1="138.54" x2="1135.2" y2="138.54" stroke="#dddfdf" stroke-width="1"/>
<line x1="764.3" y1="160.49" x2="1135.2" y2="160.49" stroke="#dddfdf" stroke-width="1"/>
<line x1="764.3" y1="182.44" x2="1135.2" y2="182.44" stroke="#dddfdf" stroke-width="1"/>
<line x1="764.3" y1="204.38" x2="1135.2" y2="204.38" stroke="#dddfdf" stroke-width="1"/>
<line x1="764.3" y1="226.32" x2="1135.2" y2="226.32" stroke="#dddfdf" stroke-width="1"/>
<line x1="764.3" y1="248.27" x2="1135.2" y2="248.27" stroke="#dddfdf" stroke-width="1"/>
<line x1="764.3" y1="270.22" x2="1135.2" y2="270.22" stroke="#dddfdf" stroke-width="1"/>
<line x1="764.3" y1="292.16" x2="1135.2" y2="292.16" stroke="#dddfdf" stroke-width="1"/>
<line x1="764.3" y1="314.11" x2="1135.2" y2="314.11" stroke="#dddfdf" stroke-width="1"/>
<line x1="764.3" y1="336.05" x2="1135.2" y2="336.05" stroke="#dddfdf" stroke-width="1"/>
<line x1="764.3" y1="358.00" x2="1135.2" y2="358.00" stroke="#dddfdf" stroke-width="1"/>
<line x1="764.3" y1="379.94" x2="1135.2" y2="379.94" stroke="#dddfdf" stroke-width="1"/>
<line x1="764.3" y1="401.88" x2="1135.2" y2="401.88" stroke="#dddfdf" stroke-width="1"/>
<line x1="764.3" y1="423.83" x2="1135.2" y2="423.83" stroke="#dddfdf" stroke-width="1"/>
<line x1="764.3" y1="445.77" x2="1135.2" y2="445.77" stroke="#dddfdf" stroke-width="1"/>
<line x1="764.3" y1="467.72" x2="1135.2" y2="467.72" stroke="#dddfdf" stroke-width="1"/>
<line x1="764.3" y1="489.66" x2="1135.2" y2="489.66" stroke="#dddfdf" stroke-width="1"/>
<line x1="759.4" y1="116.60" x2="764.5" y2="116.60" stroke="#665c3a" stroke-width="1"/>
<line x1="759.4" y1="138.54" x2="764.5" y2="138.54" stroke="#665c3a" stroke-width="1"/>
<line x1="759.4" y1="160.49" x2="764.5" y2="160.49" stroke="#665c3a" stroke-width="1"/>
<line x1="759.4" y1="182.44" x2="764.5" y2="182.44" stroke="#665c3a" stroke-width="1"/>
<line x1="759.4" y1="204.38" x2="764.5" y2="204.38" stroke="#665c3a" stroke-width="1"/>
<line x1="759.4" y1="226.32" x2="764.5" y2="226.32" stroke="#665c3a" stroke-width="1"/>
<line x1="759.4" y1="248.27" x2="764.5" y2="248.27" stroke="#665c3a" stroke-width="1"/>
<line x1="759.4" y1="270.22" x2="764.5" y2="270.22" stroke="#665c3a" stroke-width="1"/>
<line x1="759.4" y1="292.16" x2="764.5" y2="292.16" stroke="#665c3a" stroke-width="1"/>
<line x1="759.4" y1="314.11" x2="764.5" y2="314.11" stroke="#665c3a" stroke-width="1"/>
<line x1="759.4" y1="336.05" x2="764.5" y2="336.05" stroke="#665c3a" stroke-width="1"/>
<line x1="759.4" y1="358.00" x2="764.5" y2="358.00" stroke="#665c3a" stroke-width="1"/>
<line x1="759.4" y1="379.94" x2="764.5" y2="379.94" stroke="#665c3a" stroke-width="1"/>
<line x1="759.4" y1="401.88" x2="764.5" y2="401.88" stroke="#665c3a" stroke-width="1"/>
<line x1="759.4" y1="423.83" x2="764.5" y2="423.83" stroke="#665c3a" stroke-width="1"/>
<line x1="759.4" y1="445.77" x2="764.5" y2="445.77" stroke="#665c3a" stroke-width="1"/>
<line x1="759.4" y1="467.72" x2="764.5" y2="467.72" stroke="#665c3a" stroke-width="1"/>
<line x1="759.4" y1="489.66" x2="764.5" y2="489.66" stroke="#665c3a" stroke-width="1"/>
<line x1="764.5" y1="116.1" x2="764.5" y2="511.1" stroke="#555" stroke-width="1"/>
<line x1="764" y1="510.5" x2="1135.2" y2="510.5" stroke="#70706c" stroke-width="1.2"/>
<text x="757.2" y="163.5" font-size="11.6" text-anchor="end" fill="#1e1e1e" stroke="#1e1e1e" stroke-width="0.15">50</text>
<text x="757.2" y="185.4" font-size="11.6" text-anchor="end" fill="#1e1e1e" stroke="#1e1e1e" stroke-width="0.15">60</text>
<text x="757.2" y="207.4" font-size="11.6" text-anchor="end" fill="#1e1e1e" stroke="#1e1e1e" stroke-width="0.15">80</text>
<text x="757.2" y="229.3" font-size="11.6" text-anchor="end" fill="#1e1e1e" stroke="#1e1e1e" stroke-width="0.15">100</text>
<text x="757.2" y="251.3" font-size="11.6" text-anchor="end" fill="#1e1e1e" stroke="#1e1e1e" stroke-width="0.15">125</text>
<text x="757.2" y="273.2" font-size="11.6" text-anchor="end" fill="#1e1e1e" stroke="#1e1e1e" stroke-width="0.15">160</text>
<text x="757.2" y="295.2" font-size="11.6" text-anchor="end" fill="#1e1e1e" stroke="#1e1e1e" stroke-width="0.15">200</text>
<text x="757.2" y="317.1" font-size="11.6" text-anchor="end" fill="#1e1e1e" stroke="#1e1e1e" stroke-width="0.15">250</text>
<text x="757.2" y="339.0" font-size="11.6" text-anchor="end" fill="#1e1e1e" stroke="#1e1e1e" stroke-width="0.15">300</text>
<text x="757.2" y="361.0" font-size="11.6" text-anchor="end" fill="#1e1e1e" stroke="#1e1e1e" stroke-width="0.15">400</text>
<text x="757.2" y="382.9" font-size="11.6" text-anchor="end" fill="#1e1e1e" stroke="#1e1e1e" stroke-width="0.15">500</text>
<text x="757.2" y="404.9" font-size="11.6" text-anchor="end" fill="#1e1e1e" stroke="#1e1e1e" stroke-width="0.15">630</text>
<text x="757.2" y="426.8" font-size="11.6" text-anchor="end" fill="#1e1e1e" stroke="#1e1e1e" stroke-width="0.15">800</text>
<text x="757.2" y="448.8" font-size="11.6" text-anchor="end" fill="#1e1e1e" stroke="#1e1e1e" stroke-width="0.15">1000</text>
<text x="757.2" y="470.7" font-size="11.6" text-anchor="end" fill="#1e1e1e" stroke="#1e1e1e" stroke-width="0.15">1250</text>
<text x="757.2" y="492.7" font-size="11.6" text-anchor="end" fill="#1e1e1e" stroke="#1e1e1e" stroke-width="0.15">1600</text>
<text x="757.2" y="514.6" font-size="11.6" text-anchor="end" fill="#1e1e1e" stroke="#1e1e1e" stroke-width="0.15">2000</text>
<text x="762.5" y="530.8" font-size="11" text-anchor="middle" fill="#1e1e1e" stroke="#1e1e1e" stroke-width="0.25" textLength="18.2" lengthAdjust="spacingAndGlyphs">200</text>
<text x="786.3" y="530.8" font-size="11" text-anchor="middle" fill="#1e1e1e" stroke="#1e1e1e" stroke-width="0.25" textLength="17.4" lengthAdjust="spacingAndGlyphs">355</text>
<text x="810.0" y="530.8" font-size="11" text-anchor="middle" fill="#1e1e1e" stroke="#1e1e1e" stroke-width="0.25" textLength="17.4" lengthAdjust="spacingAndGlyphs">450</text>
<text x="831.1" y="530.8" font-size="11" text-anchor="middle" fill="#1e1e1e" stroke="#1e1e1e" stroke-width="0.25" textLength="17.2" lengthAdjust="spacingAndGlyphs">560</text>
<text x="852.2" y="530.8" font-size="11" text-anchor="middle" fill="#1e1e1e" stroke="#1e1e1e" stroke-width="0.25" textLength="16.4" lengthAdjust="spacingAndGlyphs">710</text>
<text x="872.9" y="530.8" font-size="11" text-anchor="middle" fill="#1e1e1e" stroke="#1e1e1e" stroke-width="0.25" textLength="16.8" lengthAdjust="spacingAndGlyphs">900</text>
<text x="894.3" y="530.8" font-size="11" text-anchor="middle" fill="#1e1e1e" stroke="#1e1e1e" stroke-width="0.25" textLength="17.6" lengthAdjust="spacingAndGlyphs">1120</text>
<text x="917.1" y="530.8" font-size="11" text-anchor="middle" fill="#1e1e1e" stroke="#1e1e1e" stroke-width="0.25" textLength="17.2" lengthAdjust="spacingAndGlyphs">1400</text>
<text x="940.9" y="530.8" font-size="11" text-anchor="middle" fill="#1e1e1e" stroke="#1e1e1e" stroke-width="0.25" textLength="18.0" lengthAdjust="spacingAndGlyphs">1800</text>
<text x="964.6" y="530.8" font-size="11" text-anchor="middle" fill="#1e1e1e" stroke="#1e1e1e" stroke-width="0.25" textLength="19.2" lengthAdjust="spacingAndGlyphs">2240</text>
<text x="985.5" y="530.8" font-size="11" text-anchor="middle" fill="#1e1e1e" stroke="#1e1e1e" stroke-width="0.25" textLength="19.0" lengthAdjust="spacingAndGlyphs">2800</text>
<text x="1006.8" y="530.8" font-size="11" text-anchor="middle" fill="#1e1e1e" stroke="#1e1e1e" stroke-width="0.25" textLength="18.7" lengthAdjust="spacingAndGlyphs">3550</text>
<text x="1027.9" y="530.8" font-size="11" text-anchor="middle" fill="#1e1e1e" stroke="#1e1e1e" stroke-width="0.25" textLength="18.4" lengthAdjust="spacingAndGlyphs">4500</text>
<text x="1049.0" y="530.8" font-size="11" text-anchor="middle" fill="#1e1e1e" stroke="#1e1e1e" stroke-width="0.25" textLength="18.7" lengthAdjust="spacingAndGlyphs">5500</text>
<text x="1070.2" y="530.8" font-size="11" text-anchor="middle" fill="#1e1e1e" stroke="#1e1e1e" stroke-width="0.25" textLength="18.4" lengthAdjust="spacingAndGlyphs">7000</text>
<text x="1091.3" y="530.8" font-size="11" text-anchor="middle" fill="#1e1e1e" stroke="#1e1e1e" stroke-width="0.25" textLength="18.8" lengthAdjust="spacingAndGlyphs">9000</text>
<text x="1117.2" y="530.8" font-size="11" text-anchor="middle" fill="#1e1e1e" stroke="#1e1e1e" stroke-width="0.25" textLength="22.8" lengthAdjust="spacingAndGlyphs">11000</text>
<line x1="764.7" y1="329.8" x2="1104.2" y2="196.1" stroke="#1fa565" stroke-width="1.3"/>
<line x1="764.7" y1="379.8" x2="1104.2" y2="243.6" stroke="#f0a24a" stroke-width="1.3"/>
<line x1="764.7" y1="445.5" x2="1104.2" y2="336.4" stroke="#e0457f" stroke-width="1.3"/>
<text transform="translate(776.8,320.0) rotate(-20.9)" font-size="12.4" fill="#1e1e1e" stroke="#1e1e1e" stroke-width="0.25" textLength="77.5" lengthAdjust="spacingAndGlyphs">NCP-MT3A(B)</text>
<text transform="translate(776.8,370.5) rotate(-21.5)" font-size="12.4" fill="#1e1e1e" stroke="#1e1e1e" stroke-width="0.25" textLength="77.5" lengthAdjust="spacingAndGlyphs">NCP-MT4A(B)</text>
<text transform="translate(776.8,438.0) rotate(-18.5)" font-size="12.4" fill="#1e1e1e" stroke="#1e1e1e" stroke-width="0.25" textLength="77.5" lengthAdjust="spacingAndGlyphs">NCP-MT5A(B)</text>
<text transform="translate(721.2,517.3) rotate(-90) scale(1.07,1)" font-size="12.2" fill="#1c1c1c" stroke="#1c1c1c" stroke-width="0.25" font-family="'Liberation Sans','Noto Sans CJK TC',sans-serif" font-weight="500" letter-spacing="0.5">有效的負載重量<tspan letter-spacing="1.1">/kgs</tspan></text>
<text x="782.0" y="552.0" font-size="12.8" fill="#1c1c1c" stroke="#1c1c1c" stroke-width="0.3" font-family="'Liberation Sans','Noto Sans CJK TC',sans-serif" font-weight="500" letter-spacing="1.5">每分鐘/轉速</text></g></svg>
<div class="unit">單<span style="display:inline-block;width:3.2px"></span>位<span style="display:inline-block;width:3px"></span>:<span style="display:inline-block;width:3px"></span><span style="display:inline-block;transform:scaleX(0.78);transform-origin:left;font-size:20px;font-weight:normal">mm</span></div>
<table class="t"><colgroup>
<col style="width:153.8px">
<col style="width:126.1px">
<col style="width:59.1px">
<col style="width:59.2px">
<col style="width:59.4px">
<col style="width:59.2px">
<col style="width:59.7px">
<col style="width:59.0px">
<col style="width:59.4px">
<col style="width:59.3px">
<col style="width:112.1px">
<col style="width:154.0px">
<col style="width:78.1px">
</colgroup>
<tr class="h">
<th><div class="zh"><span class="c" style="letter-spacing:2.5px;margin-right:-2.5px">訂購編號</span></div><div class="en"><span class="x" style="letter-spacing:3.5px;margin-right:-3.5px">Order No.</span></div></th>
<th><div class="zh"><span class="c">型<span style="display:inline-block;width:10.6px"></span>號</span></div><div class="en"><span class="x" style="letter-spacing:3.2px;margin-right:-3.2px">Model</span></div></th>
<th><div class="one"><span class="x">A</span></div></th>
<th><div class="one"><span class="x">B</span></div></th>
<th><div class="one"><span class="x">C</span></div></th>
<th><div class="one"><span class="x">D</span></div></th>
<th><div class="one"><span class="x">D1</span></div></th>
<th><div class="one"><span class="x">d</span></div></th>
<th><div class="one"><span class="x">L</span></div></th>
<th><div class="one" style="font-weight:normal;font-size:21px;margin-top:18px;-webkit-text-stroke:0.35px #151515"><span class="x" style="transform:scaleX(1.13);position:relative;left:-1px">θ</span></div></th>
<th><div class="zh"><span class="c">精<span style="display:inline-block;width:10.6px"></span>度</span></div><div class="en"><span class="x" style="transform:scaleX(1.225)">Accuracy</span></div></th>
<th><div class="zh"><span class="c" style="letter-spacing:-0.5px;margin:0 8.75px">最高轉速</span><span class="sm">(RPM)</span></div><div class="en"><span class="x" style="transform:scaleX(1.21)">Speed Max.</span></div></th>
<th><div class="zh"><span class="c" style="font-weight:500;letter-spacing:-1.2px;margin:0 4.2px">重量</span><span class="sm2">(kg)</span></div><div class="en"><span class="x">Weight</span></div></th>
</tr>
<tr class="r w">
<td class="ord"><span class="o">38521-05</span></td>
<td>NCP-MT3A</td>
<td>38</td>
<td>58</td>
<td>86</td>
<td>48</td>
<td>30</td>
<td><span class="dash">–</span></td>
<td>182</td>
<td>60<span class="deg">°</span></td>
<td>0.003</td>
<td>10000</td>
<td>1.1</td>
</tr>
<tr class="r b">
<td class="ord"><span class="o">38521-10</span></td>
<td>NCP-MT4A</td>
<td>45</td>
<td>65</td>
<td>108</td>
<td>62</td>
<td>32</td>
<td><span class="dash">–</span></td>
<td>215</td>
<td>60<span class="deg">°</span></td>
<td>0.003</td>
<td>10000</td>
<td>2.2</td>
</tr>
<tr class="r w">
<td class="ord"><span class="o">38521-15</span></td>
<td>NCP-MT5A</td>
<td>50</td>
<td>70</td>
<td>136</td>
<td>72</td>
<td>40</td>
<td><span class="dash">–</span></td>
<td>256</td>
<td>60<span class="deg">°</span></td>
<td>0.003</td>
<td>8000</td>
<td>3.7</td>
</tr>
<tr class="r b">
<td class="ord"><span class="o">38521-20</span></td>
<td>NCP-MT3B</td>
<td>48</td>
<td>58</td>
<td>86</td>
<td>48</td>
<td>30</td>
<td>10</td>
<td>192</td>
<td>60<span class="deg">°</span></td>
<td>0.003</td>
<td>10000</td>
<td>1.2</td>
</tr>
<tr class="r w">
<td class="ord"><span class="o">38521-25</span></td>
<td>NCP-MT4B</td>
<td>52</td>
<td>65</td>
<td>108</td>
<td>62</td>
<td>32</td>
<td>12</td>
<td>225</td>
<td>60<span class="deg">°</span></td>
<td>0.003</td>
<td>10000</td>
<td>2.2</td>
</tr>
<tr class="r b">
<td class="ord"><span class="o">38521-30</span></td>
<td>NCP-MT5B</td>
<td>60</td>
<td>70</td>
<td>136</td>
<td>72</td>
<td>40</td>
<td>14</td>
<td>266</td>
<td>60<span class="deg">°</span></td>
<td>0.003</td>
<td>8000</td>
<td>3.7</td>
</tr>
</table>
<svg width="1240" height="896" viewBox="0 0 1240 896" style="position:absolute;left:0;top:0;pointer-events:none"><line x1="70.65" y1="605.75" x2="70.65" y2="837.85" stroke="#151515" stroke-width="1.9"/><line x1="224.50" y1="605.75" x2="224.50" y2="837.85" stroke="#151515" stroke-width="1.6"/><line x1="350.60" y1="605.75" x2="350.60" y2="837.85" stroke="#151515" stroke-width="1.6"/><line x1="409.70" y1="605.75" x2="409.70" y2="837.85" stroke="#151515" stroke-width="1.6"/><line x1="468.90" y1="605.75" x2="468.90" y2="837.85" stroke="#151515" stroke-width="1.6"/><line x1="528.30" y1="605.75" x2="528.30" y2="837.85" stroke="#151515" stroke-width="1.6"/><line x1="587.50" y1="605.75" x2="587.50" y2="837.85" stroke="#151515" stroke-width="1.6"/><line x1="647.20" y1="605.75" x2="647.20" y2="837.85" stroke="#151515" stroke-width="1.6"/><line x1="706.20" y1="605.75" x2="706.20" y2="837.85" stroke="#151515" stroke-width="1.6"/><line x1="765.60" y1="605.75" x2="765.60" y2="837.85" stroke="#151515" stroke-width="1.6"/><line x1="824.90" y1="605.75" x2="824.90" y2="837.85" stroke="#151515" stroke-width="1.6"/><line x1="937.00" y1="605.75" x2="937.00" y2="837.85" stroke="#151515" stroke-width="1.6"/><line x1="1091.00" y1="605.75" x2="1091.00" y2="837.85" stroke="#151515" stroke-width="1.6"/><line x1="1169.10" y1="605.75" x2="1169.10" y2="837.85" stroke="#151515" stroke-width="1.9"/><line x1="69.75" y1="606.65" x2="1170.00" y2="606.65" stroke="#151515" stroke-width="1.9"/><line x1="69.75" y1="659.90" x2="1170.00" y2="659.90" stroke="#151515" stroke-width="1.8"/><line x1="69.75" y1="689.40" x2="1170.00" y2="689.40" stroke="#151515" stroke-width="1.3"/><line x1="69.75" y1="718.90" x2="1170.00" y2="718.90" stroke="#151515" stroke-width="1.3"/><line x1="69.75" y1="748.45" x2="1170.00" y2="748.45" stroke="#151515" stroke-width="1.3"/><line x1="69.75" y1="777.95" x2="1170.00" y2="777.95" stroke="#151515" stroke-width="1.3"/><line x1="69.75" y1="807.45" x2="1170.00" y2="807.45" stroke="#151515" stroke-width="1.3"/><line x1="69.75" y1="836.95" x2="1170.00" y2="836.95" stroke="#151515" stroke-width="1.9"/></svg>
</body></html>
